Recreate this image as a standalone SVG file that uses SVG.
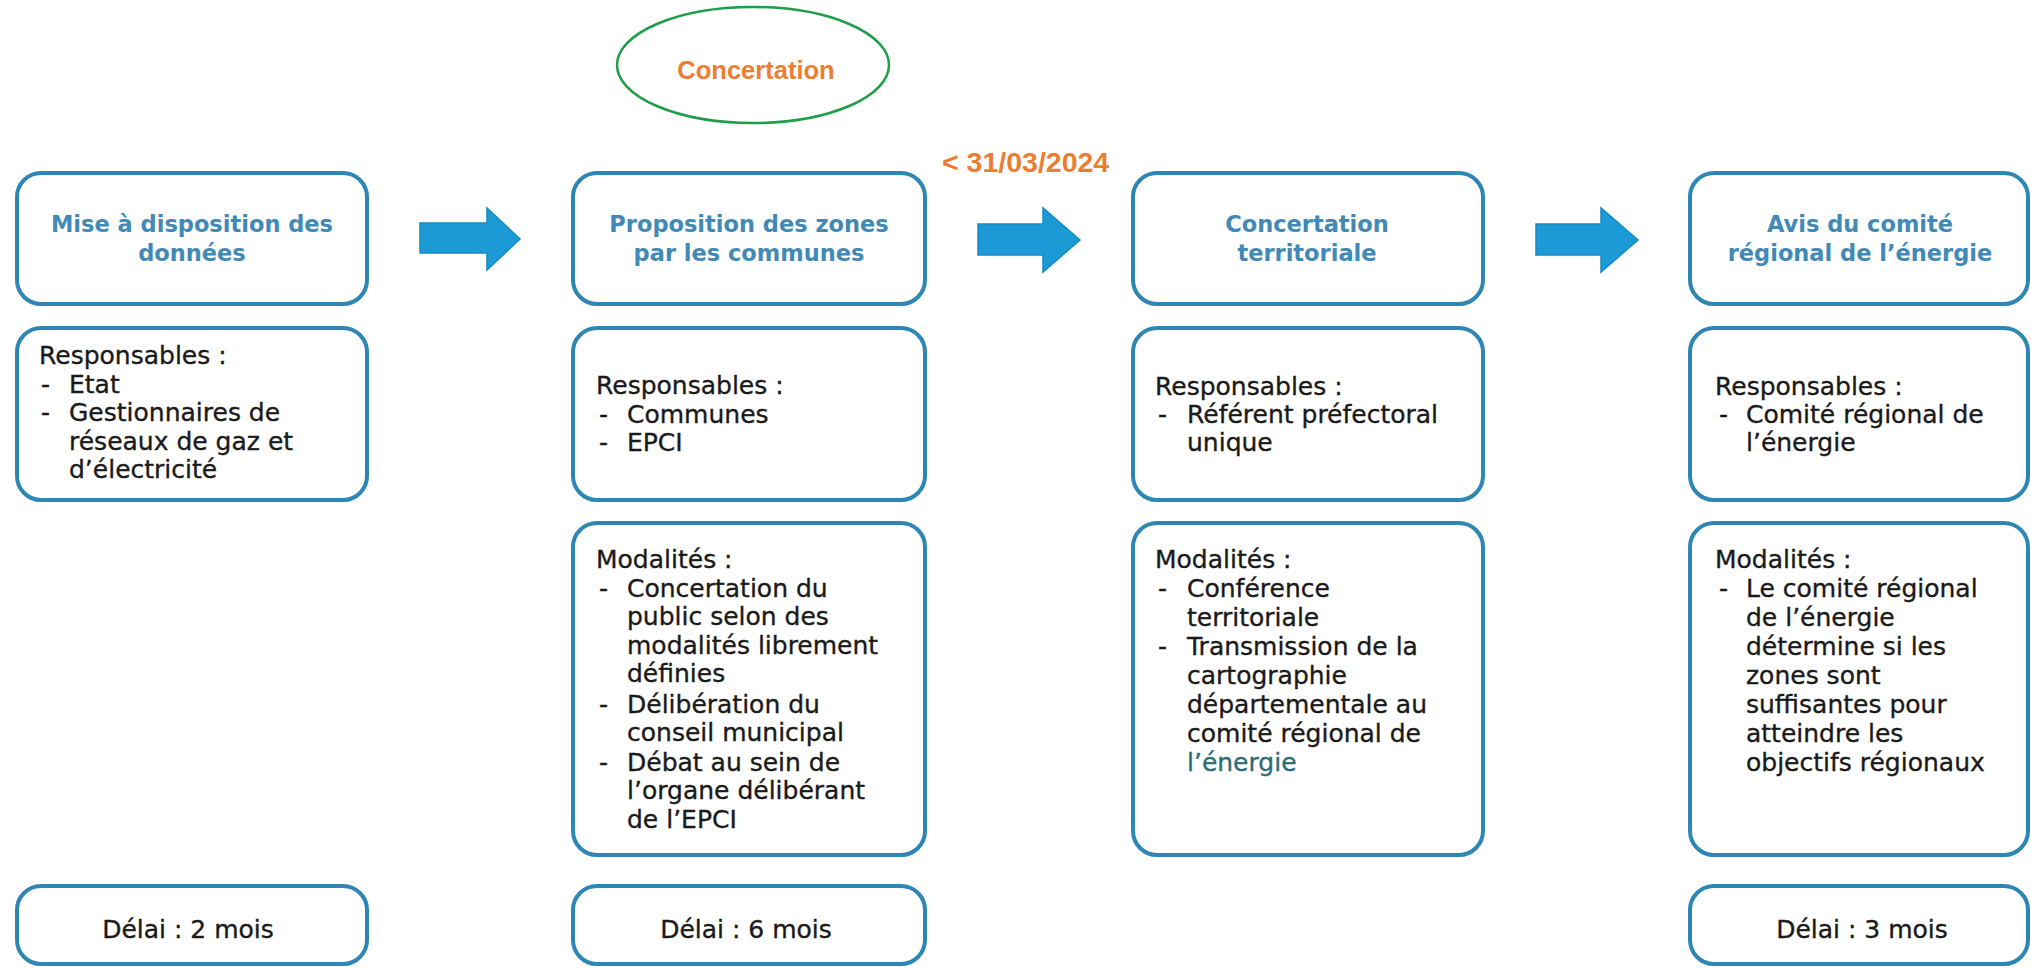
<svg xmlns="http://www.w3.org/2000/svg" width="2031" height="968" viewBox="0 0 2031 968">
<style>
.box{fill:#fff;stroke:#2E86B5;stroke-width:4}
.hd{font-family:"DejaVu Sans",Verdana,sans-serif;font-weight:bold;font-size:22.5px;fill:#4189B6;text-anchor:middle}
.tx{font-family:"DejaVu Sans",Verdana,sans-serif;font-size:25px;fill:#1a1a1a;stroke:#1a1a1a;stroke-width:0.35}
.mid{text-anchor:middle}
.or{font-family:"Liberation Sans",Arial,sans-serif;font-weight:bold;fill:#ED7D31}
.arr{fill:#1C9AD6;stroke:#168BC4;stroke-width:1.5}
</style>
<rect x="0" y="0" width="2031" height="968" fill="#fff"/>

<g id="concertation">
<ellipse cx="753" cy="65" rx="136" ry="58" fill="none" stroke="#1E9E48" stroke-width="2.5"/>
<text class="or" x="756" y="79" font-size="25.5" text-anchor="middle">Concertation</text>
</g>

<g id="date-label">
<text class="or" x="942" y="172" font-size="28.5">&lt; 31/03/2024</text>
</g>

<g id="connectors">
<polygon class="arr" points="420,223 487,223 487,208 520,239 487,270 487,253 420,253"/>
<polygon class="arr" points="978,224 1043,224 1043,208 1080,240 1043,272 1043,255 978,255"/>
<polygon class="arr" points="1536,224 1601,224 1601,208 1638,240 1601,272 1601,255 1536,255"/>
</g>

<g id="col1-header">
<rect class="box" x="17" y="173" width="350" height="131" rx="24"/>
<text class="hd" x="192" y="232">Mise à disposition des</text>
<text class="hd" x="192" y="261">données</text>
</g>
<g id="col1-responsables">
<rect class="box" x="17" y="328" width="350" height="172" rx="24"/>
<text class="tx" x="39" y="364">Responsables :</text>
<text class="tx" x="41" y="393">-</text><text class="tx" x="69" y="393">Etat</text>
<text class="tx" x="41" y="421">-</text><text class="tx" x="69" y="421">Gestionnaires de</text>
<text class="tx" x="69" y="450">réseaux de gaz et</text>
<text class="tx" x="69" y="478">d’électricité</text>
</g>
<g id="col1-delai">
<rect class="box" x="17" y="886" width="350" height="78" rx="24"/>
<text class="tx mid" x="188" y="938">Délai : 2 mois</text>
</g>

<g id="col2-header">
<rect class="box" x="573" y="173" width="352" height="131" rx="24"/>
<text class="hd" x="749" y="232">Proposition des zones</text>
<text class="hd" x="749" y="261">par les communes</text>
</g>
<g id="col2-responsables">
<rect class="box" x="573" y="328" width="352" height="172" rx="24"/>
<text class="tx" x="596" y="394">Responsables :</text>
<text class="tx" x="599" y="423">-</text><text class="tx" x="627" y="423">Communes</text>
<text class="tx" x="599" y="451">-</text><text class="tx" x="627" y="451">EPCI</text>
</g>
<g id="col2-modalites">
<rect class="box" x="573" y="523" width="352" height="332" rx="24"/>
<text class="tx" x="596" y="568">Modalités :</text>
<text class="tx" x="599" y="597">-</text><text class="tx" x="627" y="597">Concertation du</text>
<text class="tx" x="627" y="625">public selon des</text>
<text class="tx" x="627" y="654">modalités librement</text>
<text class="tx" x="627" y="682">définies</text>
<text class="tx" x="599" y="713">-</text><text class="tx" x="627" y="713">Délibération du</text>
<text class="tx" x="627" y="741">conseil municipal</text>
<text class="tx" x="599" y="771">-</text><text class="tx" x="627" y="771">Débat au sein de</text>
<text class="tx" x="627" y="799">l’organe délibérant</text>
<text class="tx" x="627" y="828">de l’EPCI</text>
</g>
<g id="col2-delai">
<rect class="box" x="573" y="886" width="352" height="78" rx="24"/>
<text class="tx mid" x="746" y="938">Délai : 6 mois</text>
</g>

<g id="col3-header">
<rect class="box" x="1133" y="173" width="350" height="131" rx="24"/>
<text class="hd" x="1307" y="232">Concertation</text>
<text class="hd" x="1307" y="261">territoriale</text>
</g>
<g id="col3-responsables">
<rect class="box" x="1133" y="328" width="350" height="172" rx="24"/>
<text class="tx" x="1155" y="395">Responsables :</text>
<text class="tx" x="1158" y="423">-</text><text class="tx" x="1187" y="423">Référent préfectoral</text>
<text class="tx" x="1187" y="451">unique</text>
</g>
<g id="col3-modalites">
<rect class="box" x="1133" y="523" width="350" height="332" rx="24"/>
<text class="tx" x="1155" y="568">Modalités :</text>
<text class="tx" x="1158" y="597">-</text><text class="tx" x="1187" y="597">Conférence</text>
<text class="tx" x="1187" y="626">territoriale</text>
<text class="tx" x="1158" y="655">-</text><text class="tx" x="1187" y="655">Transmission de la</text>
<text class="tx" x="1187" y="684">cartographie</text>
<text class="tx" x="1187" y="713">départementale au</text>
<text class="tx" x="1187" y="742">comité régional de</text>
<text class="tx" x="1187" y="771" style="fill:#2E6B78;stroke:#2E6B78">l’énergie</text>
</g>

<g id="col4-header">
<rect class="box" x="1690" y="173" width="338" height="131" rx="24"/>
<text class="hd" x="1860" y="232">Avis du comité</text>
<text class="hd" x="1860" y="261">régional de l’énergie</text>
</g>
<g id="col4-responsables">
<rect class="box" x="1690" y="328" width="338" height="172" rx="24"/>
<text class="tx" x="1715" y="395">Responsables :</text>
<text class="tx" x="1719" y="423">-</text><text class="tx" x="1746" y="423">Comité régional de</text>
<text class="tx" x="1746" y="451">l’énergie</text>
</g>
<g id="col4-modalites">
<rect class="box" x="1690" y="523" width="338" height="332" rx="24"/>
<text class="tx" x="1715" y="568">Modalités :</text>
<text class="tx" x="1719" y="597">-</text><text class="tx" x="1746" y="597">Le comité régional</text>
<text class="tx" x="1746" y="626">de l’énergie</text>
<text class="tx" x="1746" y="655">détermine si les</text>
<text class="tx" x="1746" y="684">zones sont</text>
<text class="tx" x="1746" y="713">suffisantes pour</text>
<text class="tx" x="1746" y="742">atteindre les</text>
<text class="tx" x="1746" y="771">objectifs régionaux</text>
</g>
<g id="col4-delai">
<rect class="box" x="1690" y="886" width="338" height="78" rx="24"/>
<text class="tx mid" x="1862" y="938">Délai : 3 mois</text>
</g>
</svg>
